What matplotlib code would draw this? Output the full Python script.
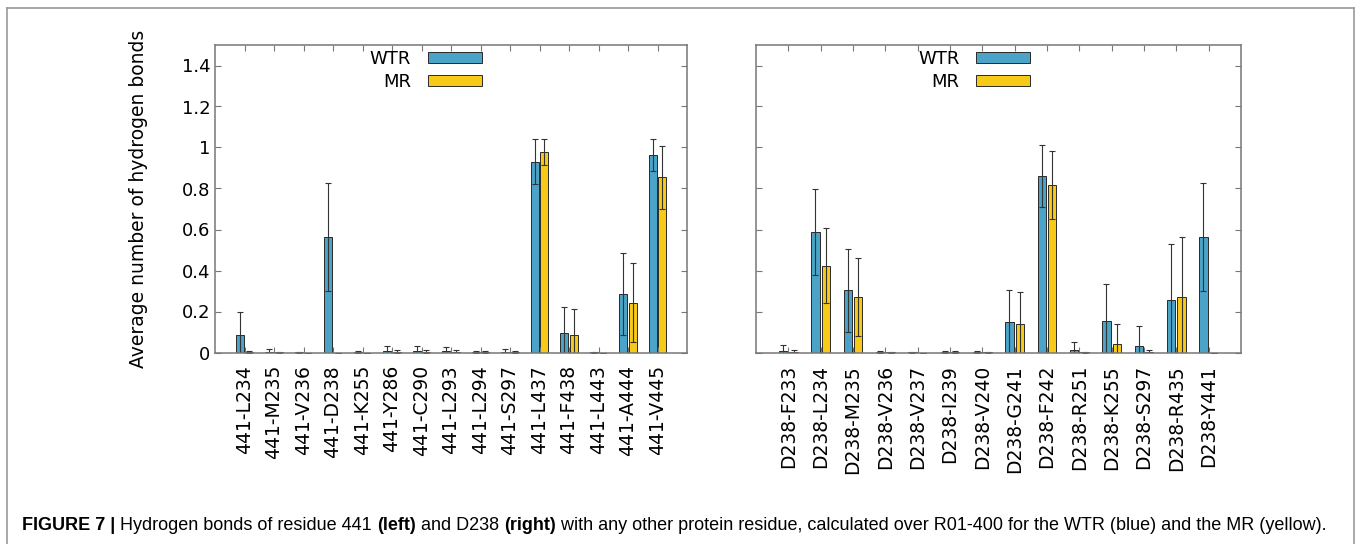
import numpy as np
import matplotlib.pyplot as plt
from matplotlib.lines import Line2D

# residue pairs and average H-bond counts
left_labels = ['441-L234', '441-M235', '441-V236', '441-D238', '441-K255', '441-Y286',
               '441-C290', '441-L293', '441-L294', '441-S297', '441-L437', '441-F438',
               '441-L443', '441-A444', '441-V445']
left_wtr = [0.083, 0.003, 0.002, 0.563, 0.002, 0.008, 0.008, 0.007, 0.002, 0.003,
            0.930, 0.094, 0.002, 0.285, 0.965]
left_wtr_err = [0.113, 0.014, 0.002, 0.265, 0.003, 0.022, 0.026, 0.021, 0.003, 0.012,
                0.110, 0.130, 0.002, 0.200, 0.078]
left_mr = [0.003, 0.002, 0.0, 0.0, 0.0, 0.004, 0.004, 0.003, 0.003, 0.002,
           0.980, 0.087, 0.0, 0.243, 0.854]
left_mr_err = [0.003, 0.002, 0.0, 0.0, 0.0, 0.008, 0.008, 0.008, 0.005, 0.004,
               0.063, 0.124, 0.0, 0.193, 0.155]

right_labels = ['D238-F233', 'D238-L234', 'D238-M235', 'D238-V236', 'D238-V237',
                'D238-I239', 'D238-V240', 'D238-G241', 'D238-F242', 'D238-R251',
                'D238-K255', 'D238-S297', 'D238-R435', 'D238-Y441']
right_wtr = [0.005, 0.587, 0.304, 0.002, 0.002, 0.002, 0.002, 0.148, 0.862, 0.011,
             0.156, 0.034, 0.254, 0.563]
right_wtr_err = [0.032, 0.211, 0.203, 0.004, 0.002, 0.003, 0.003, 0.155, 0.151, 0.040,
                 0.177, 0.094, 0.273, 0.262]
right_mr = [0.002, 0.424, 0.270, 0.002, 0.0, 0.002, 0.002, 0.140, 0.816, 0.002,
            0.042, 0.003, 0.270, 0.0]
right_mr_err = [0.009, 0.183, 0.190, 0.002, 0.0, 0.005, 0.002, 0.153, 0.166, 0.002,
                0.098, 0.008, 0.293, 0.0]

yticks = [0, 0.2, 0.4, 0.6, 0.8, 1, 1.2, 1.4]
ytick_labels = ['0', '0.2', '0.4', '0.6', '0.8', '1', '1.2', '1.4']

blue = '#4ba3c7'
yellow = '#f6ca16'
spine_col = '#777777'

W, H = 1358, 544
fig = plt.figure(figsize=(W / 100, H / 100), dpi=100)
ax1 = fig.add_axes([215 / W, 1 - 352.5 / H, 472 / W, 307.5 / H])
ax2 = fig.add_axes([756 / W, 1 - 352.5 / H, 485 / W, 307.5 / H])


def draw(ax, labels, wtr, wtr_err, mr, mr_err):
    x = np.arange(len(labels))
    ekw = dict(ecolor='#333333', elinewidth=0.8, capsize=2, capthick=0.8)
    ax.bar(x - 0.16, wtr, 0.26, yerr=wtr_err, color=blue, edgecolor='#2a2a2a',
           linewidth=0.7, error_kw=ekw, label='WTR')
    ax.bar(x + 0.16, mr, 0.26, yerr=mr_err, color=yellow, edgecolor='#2a2a2a',
           linewidth=0.7, error_kw=ekw, label='MR')
    ax.set_xlim(-1, len(labels))
    ax.set_ylim(0, 1.5)
    ax.set_xticks(x)
    ax.set_xticklabels(labels, rotation=90, fontsize=13.5)
    ax.set_yticks(yticks)
    for s in ax.spines.values():
        s.set_color(spine_col)
        s.set_linewidth(1.1)
    ax.tick_params(axis='both', direction='in', top=True, right=True,
                   length=4, width=0.8, color=spine_col)
    ax.tick_params(axis='x', pad=9)
    ax.legend(loc='upper right', bbox_to_anchor=(0.565, 0.985), markerfirst=False,
              frameon=False, handlelength=3.0, handleheight=0.55, handletextpad=0.9,
              labelspacing=0.3, borderpad=0, borderaxespad=0, fontsize=13)


draw(ax1, left_labels, left_wtr, left_wtr_err, left_mr, left_mr_err)
draw(ax2, right_labels, right_wtr, right_wtr_err, right_mr, right_mr_err)

ax1.set_yticklabels(ytick_labels, fontsize=13)
ax1.set_ylabel('Average number of hydrogen bonds', fontsize=13.5, labelpad=24)
ax2.set_yticklabels([])

# outer frame of the figure panel
fig.add_artist(Line2D([7 / W, 7 / W], [1 - 8 / H, -0.1], color='#999999', lw=1.2))
fig.add_artist(Line2D([7 / W, 1354 / W], [1 - 8 / H, 1 - 8 / H], color='#999999', lw=1.2))
fig.add_artist(Line2D([1354 / W, 1354 / W], [1 - 8 / H, -0.1], color='#999999', lw=1.2))

# caption built from bold / regular pieces
caption = [('FIGURE 7 | ', 'bold'), ('Hydrogen bonds of residue 441 ', 'normal'),
           ('(left)', 'bold'), (' and D238 ', 'normal'), ('(right)', 'bold'),
           (' with any other protein residue, calculated over R01-400 for the WTR (blue) '
            'and the MR (yellow).', 'normal')]
renderer = fig.canvas.get_renderer()
cap_size = 11.6


def width_of(s, weight):
    t = fig.text(0, 0, s.replace(' ', '\u00a0'), fontsize=cap_size,
                 family='Liberation Sans', weight=weight)
    w = t.get_window_extent(renderer).width
    t.remove()
    return w


total = sum(width_of(s, wt) for s, wt in caption)
cap_size = cap_size * 1306 / total
xpos = 22
for s, wt in caption:
    fig.text(xpos / W, 1 - 530 / H, s.replace(' ', '\u00a0'), fontsize=cap_size,
             family='Liberation Sans', weight=wt, va='baseline')
    xpos += width_of(s, wt)

fig.savefig('out.png', dpi=100)
